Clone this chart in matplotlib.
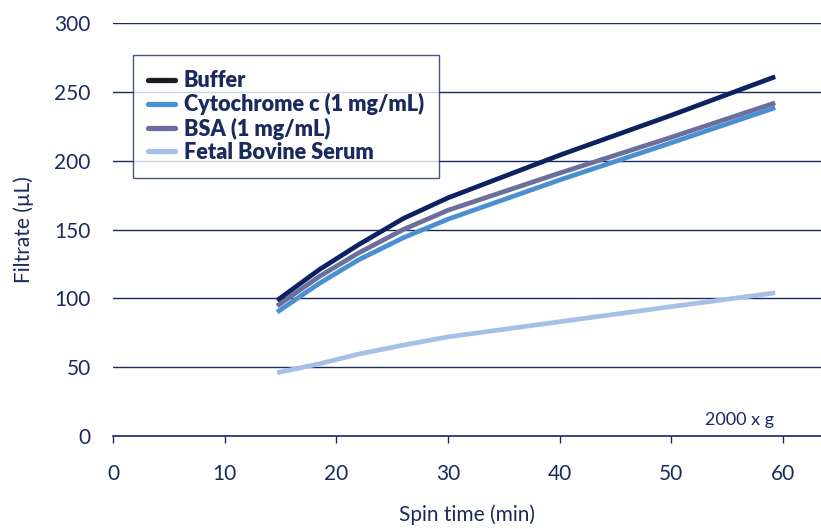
import matplotlib
matplotlib.use('Agg')
import matplotlib.pyplot as plt

plt.rcParams['font.family'] = ['Lato', 'DejaVu Sans']

navy = '#1b2a5e'

# values
spin_time = [14.7, 18.5, 22, 26, 30, 40, 50, 59.3]
buffer = [98.5, 121, 139, 158, 173, 204, 233, 261]
cytochrome = [90, 111, 128, 144, 157.5, 186, 213, 238.5]
bsa = [94.5, 116, 133, 150, 164, 191, 217, 242]
fbs = [46, 52.5, 59.5, 66, 72, 83, 94, 104]

labels = ['Buffer', 'Cytochrome c (1 mg/mL)', 'BSA (1 mg/mL)', 'Fetal Bovine Serum']
line_colours = ['#0d2260', '#4a8fd1', '#6a6f9c', '#a4c0e7']
legend_colours = ['#1c1c24', '#4a8fd1', '#6a6f9c', '#a4c0e7']

fig = plt.figure(figsize=(8.21, 5.29), dpi=100)
ax = fig.add_axes([0.1376, 0.1758, 0.8624, 0.7807])

series = [buffer, cytochrome, bsa, fbs]
for i in [3, 1, 2, 0]:
    ax.plot(spin_time, series[i], color=line_colours[i], lw=3.4,
            solid_capstyle='butt', solid_joinstyle='round', zorder=3)

# legend proxies
handles = [plt.Line2D([], [], color=c, lw=3.8, solid_capstyle='round') for c in legend_colours]
leg = ax.legend(handles, labels, loc='upper left', bbox_to_anchor=(0.028, 0.9225),
                borderaxespad=0, fancybox=False, frameon=True, handlelength=1.25,
                handletextpad=0.4, labelspacing=0.1, borderpad=0.7,
                prop={'weight': 'heavy', 'size': 15.6})
leg.get_frame().set_edgecolor(navy)
leg.get_frame().set_linewidth(1.0)
for t in leg.get_texts():
    t.set_color(navy)

ax.set_xlim(0, 63.4)
ax.set_ylim(0, 300)
ax.set_xticks([0, 10, 20, 30, 40, 50, 60])
ax.set_yticks([0, 50, 100, 150, 200, 250, 300])
ax.yaxis.grid(True, color=navy, lw=1.0)
ax.set_axisbelow(True)

for s in ['top', 'right', 'left']:
    ax.spines[s].set_visible(False)
ax.spines['bottom'].set_color(navy)
ax.spines['bottom'].set_linewidth(1.2)

ax.tick_params(axis='x', colors=navy, length=5, width=1, pad=15, labelsize=15)
ax.tick_params(axis='y', colors=navy, length=0, pad=16, labelsize=15)

ax.set_xlabel('Spin time (min)', color=navy, fontsize=15, labelpad=15)
ax.set_ylabel('Filtrate (µL)', color=navy, fontsize=15, labelpad=15)

ax.text(56.1, 11.6, '2000 x g', color=navy, fontsize=13, ha='center', va='center')

fig.savefig('out.png', dpi=100)
